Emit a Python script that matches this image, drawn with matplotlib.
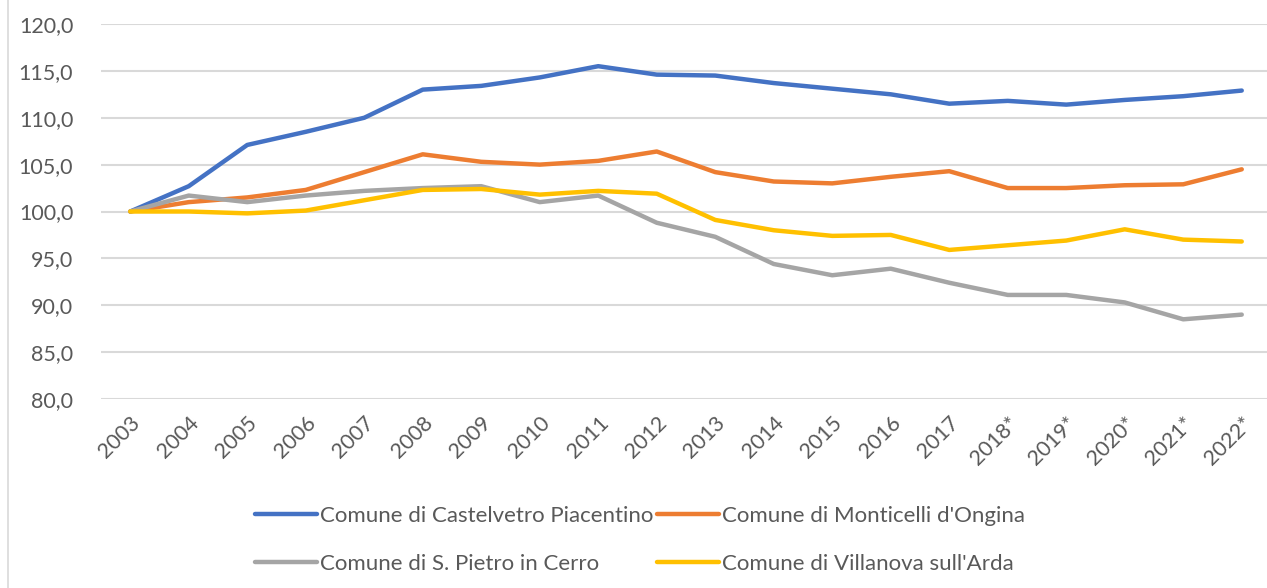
import matplotlib.pyplot as plt
from matplotlib.lines import Line2D

years = ["2003", "2004", "2005", "2006", "2007", "2008", "2009", "2010", "2011", "2012",
         "2013", "2014", "2015", "2016", "2017", "2018*", "2019*", "2020*", "2021*", "2022*"]

castelvetro = [100.0, 102.7, 107.1, 108.5, 110.0, 113.0, 113.4, 114.3, 115.5, 114.6,
               114.5, 113.7, 113.1, 112.5, 111.5, 111.8, 111.4, 111.9, 112.3, 112.9]
monticelli = [100.0, 101.0, 101.5, 102.3, 104.2, 106.1, 105.3, 105.0, 105.4, 106.4,
              104.2, 103.2, 103.0, 103.7, 104.3, 102.5, 102.5, 102.8, 102.9, 104.5]
s_pietro = [100.0, 101.7, 101.0, 101.7, 102.2, 102.5, 102.7, 101.0, 101.7, 98.8,
            97.3, 94.4, 93.2, 93.9, 92.4, 91.1, 91.1, 90.3, 88.5, 89.0]
villanova = [100.0, 100.0, 99.8, 100.1, 101.2, 102.3, 102.4, 101.8, 102.2, 101.9,
             99.1, 98.0, 97.4, 97.5, 95.9, 96.4, 96.9, 98.1, 97.0, 96.8]

names = ["Comune di Castelvetro Piacentino", "Comune di Monticelli d'Ongina",
         "Comune di S. Pietro in Cerro", "Comune di Villanova sull'Arda"]
colors = ["#4472C4", "#ED7D31", "#A5A5A5", "#FFC000"]
yticks = [80, 85, 90, 95, 100, 105, 110, 115, 120]

plt.rcParams['font.family'] = ['Lato', 'DejaVu Sans']

fig = plt.figure(figsize=(12.67, 5.88), dpi=100)
ax = fig.add_axes([101 / 1267, 189 / 588, 1170 / 1267, 375 / 588])

x = list(range(len(years)))
series = [castelvetro, monticelli, s_pietro, villanova]
for vals, col, name in zip(series, colors, names):
    ax.plot(x, vals, color=col, lw=3.2, solid_capstyle='round', label=name)

ax.set_xlim(-0.5, len(years) - 0.5)
ax.set_ylim(80, 120)
ax.set_yticks(yticks)
ax.set_yticklabels([f"{v:.1f}".replace(".", ",") for v in yticks])
ax.set_xticks(x)
ax.set_xticklabels(years, rotation=45, ha='right', rotation_mode='anchor')
ax.tick_params(axis='y', length=0, pad=20, labelsize=15.5, labelcolor='#595959')
ax.tick_params(axis='x', length=0, pad=10, labelsize=15.5, labelcolor='#595959')
ax.grid(axis='y', color='#d9d9d9', lw=1.5)
ax.set_axisbelow(True)
for s in ax.spines.values():
    s.set_visible(False)

# chart border on the left
fig.add_artist(Line2D([8 / 1267, 8 / 1267], [0, 1], color='#d9d9d9', lw=1.2))

handles, labels = ax.get_legend_handles_labels()
order = [0, 2, 1, 3]
fig.legend([handles[i] for i in order], [labels[i] for i in order],
           loc='center', bbox_to_anchor=(640 / 1267, 1 - 540 / 588), ncol=2,
           frameon=False, fontsize=16, labelcolor='#595959', handlelength=2.8,
           handletextpad=0.15, columnspacing=0.15, labelspacing=1.25)

fig.savefig("out.png", dpi=100)
